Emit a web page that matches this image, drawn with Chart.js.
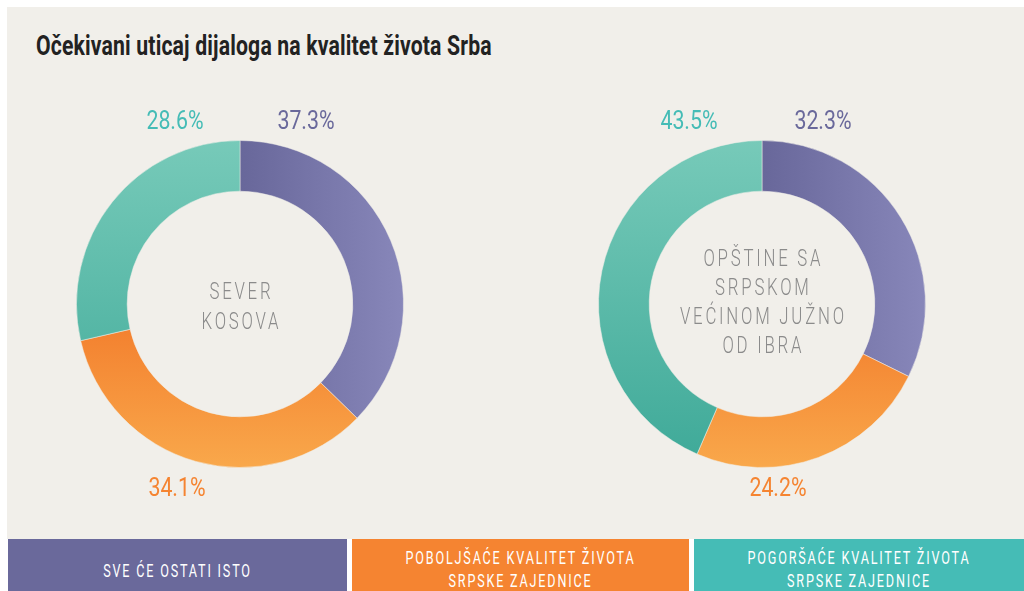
<!DOCTYPE html>
<html><head><meta charset="utf-8">
<script src="https://cdn.jsdelivr.net/npm/chart.js@4.4.1/dist/chart.umd.min.js"></script>
<style>
html,body{margin:0;padding:0;background:#fff;width:1024px;height:591px;overflow:hidden;font-family:Roboto,"Noto Sans",sans-serif}
#panel{position:absolute;left:7px;top:7px;width:1017px;height:532px;background:#f1efea}
#title{position:absolute;left:36px;top:30px;font-size:27px;font-weight:700;color:#222;white-space:nowrap;transform:scaleX(0.785);transform-origin:0 0;letter-spacing:0.2px}
.box{position:absolute;width:400px;height:400px;top:104px}
.leg{position:absolute;top:539px;height:52px;color:#fff;font-size:18px;letter-spacing:2.6px;text-align:center;overflow:hidden}
.leg span{display:block;transform:scaleX(0.7);transform-origin:50% 0;white-space:nowrap;line-height:23px}
</style></head><body>
<div id="panel"></div>
<div id="title"></div>
<div class="box" style="left:40px"><canvas id="c1" width="400" height="400"></canvas></div>
<div class="box" style="left:562px"><canvas id="c2" width="400" height="400"></canvas></div>
<div id="legend"></div>
<script>
const TITLE = "Očekivani uticaj dijaloga na kvalitet života Srba";
const categories = ["SVE ĆE OSTATI ISTO", "POBOLJŠAĆE KVALITET ŽIVOTA\nSRPSKE ZAJEDNICE", "POGORŠAĆE KVALITET ŽIVOTA\nSRPSKE ZAJEDNICE"];
const regionNames = ["SEVER\nKOSOVA", "OPŠTINE SA\nSRPSKOM\nVEĆINOM JUŽNO\nOD IBRA"];
const severValues = [37.3, 34.1, 28.6];
const juznoValues = [32.3, 24.2, 43.5];

const legendColors = ['#6a699b', '#f58431', '#45bcb6'];
const labelColors = ['#6a699b', '#f58431', '#45bcb6'];

document.getElementById('title').textContent = TITLE;
const legendBoxes = [{l:8,w:339,pt:20},{l:352,w:337,pt:7},{l:694,w:330,pt:7}];
const legEl = document.getElementById('legend');
categories.forEach((c,i)=>{
  const d=document.createElement('div');d.className='leg';
  d.style.left=legendBoxes[i].l+'px';d.style.width=legendBoxes[i].w+'px';
  d.style.background=legendColors[i];d.style.paddingTop=legendBoxes[i].pt+'px';d.style.height=(52-legendBoxes[i].pt)+'px';
  c.split('\n').forEach(t=>{const s=document.createElement('span');s.textContent=t;d.appendChild(s);});
  legEl.appendChild(d);
});

function fill(ctx, i){
  const chart = ctx.chart; const a = chart.chartArea; if(!a) return legendColors[i];
  const c = chart.ctx; const cx=(a.left+a.right)/2;
  let g;
  if(i===0){ g=c.createLinearGradient(cx,0,a.right,0); g.addColorStop(0,'#68679a'); g.addColorStop(1,'#8887ba'); }
  else if(i===1){ g=c.createLinearGradient(0,a.top+(a.bottom-a.top)*0.55,0,a.bottom); g.addColorStop(0,'#f37f2e'); g.addColorStop(1,'#f9a84b'); }
  else { g=c.createLinearGradient(0,a.top,0,a.bottom); g.addColorStop(0,'#77cab9'); g.addColorStop(1,'#3ea998'); }
  return g;
}

const labelPlugin = {
  id:'donutLabels',
  afterDatasetsDraw(chart, args, opts){
    const c=chart.ctx; const meta=chart.getDatasetMeta(0); const arc=meta.data[0];
    const cx=arc.x, cy=arc.y, R=arc.outerRadius;
    const data=chart.data.datasets[0].data;
    c.save();
    c.fillStyle='#8b8b8b'; c.textAlign='center'; c.textBaseline='middle';
    const lines=opts.center.split('\n'); const lh=opts.lh;
    lines.forEach((t,k)=>{
      c.save(); c.translate(cx, cy+opts.cdy+(k-(lines.length-1)/2)*lh); c.scale(0.73,1);
      c.font='300 23px Roboto'; c.letterSpacing='3.8px';
      c.fillText(t,1.9,0); c.restore();
    });
    data.forEach((v,i)=>{
      const p=opts.pos[i];
      const y = p.top ? cy-R-18 : cy+R+22;
      c.save(); c.translate(cx+p.dx, y); c.scale(0.82,1);
      c.font='400 26px Roboto'; c.fillStyle=labelColors[i]; c.letterSpacing='0px';
      c.fillText(v.toFixed(1)+'%',0,0); c.restore();
    });
    c.restore();
  }
};

function makeChart(id, values, center, pos, lh, cdy){
  return new Chart(document.getElementById(id), {
    type:'doughnut',
    data:{labels:categories, datasets:[{data:values, backgroundColor:(ctx)=>fill(ctx,ctx.dataIndex), borderWidth:1, borderColor:'rgba(241,239,234,0.5)'}]},
    options:{responsive:false, animation:false, cutout:'69%', layout:{padding:36},
      plugins:{legend:{display:false}, tooltip:{enabled:false}, donutLabels:{center, pos, lh, cdy}}},
    plugins:[labelPlugin]
  });
}
makeChart('c1', severValues, regionNames[0], [{top:true,dx:66},{top:false,dx:-63},{top:true,dx:-65}], 30, 4);
makeChart('c2', juznoValues, regionNames[1], [{top:true,dx:61},{top:false,dx:16},{top:true,dx:-73}], 29, 0);
</script>
</body></html>
